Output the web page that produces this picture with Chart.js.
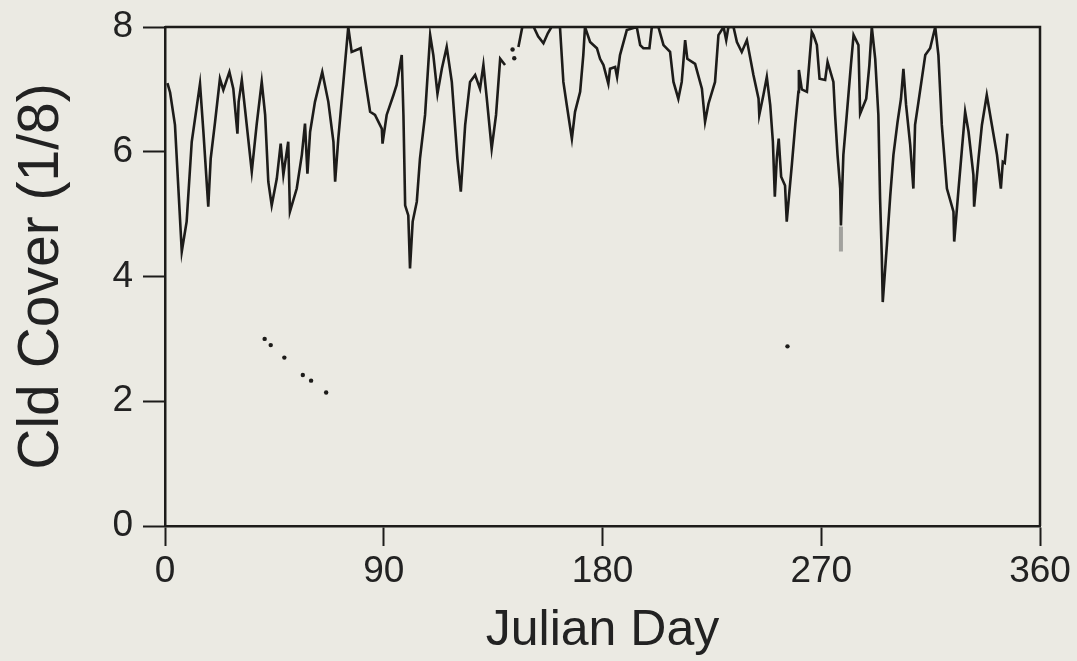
<!DOCTYPE html>
<html lang="en">
<head>
<meta charset="UTF-8">
<title>Cld Cover</title>
<script src="https://cdn.jsdelivr.net/npm/chart.js"></script>
<style>
  body { margin: 0; background: #ebeae3; }
  canvas { display: block; }
</style>
</head>
<body>
<canvas id="nubes" width="1077" height="661"></canvas>
<script>
// Serie diaria de nubosidad (octavos); null = hueco en el trazo
const dias = [
  1.0, 2.1, 4.1, 6.9, 8.9, 11.0, 14.4, 15.8, 17.8, 18.8, 20.6, 22.6, 24.0, 26.5, 28.1, 29.8, 30.3, 31.6, 32.9, 35.7,
  37.7, 39.8, 41.2, 42.5, 43.9, 46.0, 47.6, 48.7, 50.7, 51.4, 54.2, 56.3, 57.6, 58.6, 59.7, 61.7, 64.7, 67.2, 69.3, 70.0,
  71.3, 73.4, 75.4, 76.8, 80.5, 82.3, 84.4, 86.4, 89.2, 89.5, 91.2, 94.0, 95.3, 97.4, 98.1, 98.8, 100.1, 100.8, 101.9, 103.6,
  104.9, 107.0, 109.1, 110.4, 112.1, 113.9, 115.9, 118.0, 120.3, 121.7, 123.5, 125.5, 127.6, 129.6, 131.0, 132.4, 134.4, 136.2, 137.9, 139.9,
  141.0, 145.4, 147.0, 151.7, 153.5, 155.7, 157.5, 159.0, 162.5, 163.9, 165.3, 167.4, 168.7, 170.8, 172.1, 172.8, 174.9, 177.7, 179.0, 180.4,
  182.4, 183.1, 185.2, 186.0, 187.2, 190.0, 194.1, 195.5, 196.8, 199.3, 200.3, 203.0, 205.1, 207.8, 209.2, 211.2, 212.6, 214.0, 214.9, 218.1,
  220.9, 222.2, 223.6, 226.3, 227.7, 229.8, 230.9, 231.8, 233.9, 235.3, 237.3, 239.4, 242.1, 244.2, 244.5, 246.2, 247.6, 249.0, 250.1, 250.9,
  251.7, 252.5, 253.5, 255.1, 255.8, 256.9, 257.9, 259.3, 260.6, 260.8, 262.0, 264.1, 266.1, 266.8, 268.2, 269.3, 271.6, 272.6, 275.0, 275.7,
  276.7, 277.8, 278.1, 279.1, 280.5, 282.2, 283.3, 285.3, 286.0, 288.5, 289.8, 290.8, 292.2, 293.5, 294.2, 294.9, 295.3, 297.0, 298.4, 299.7,
  301.4, 302.8, 303.8, 304.9, 306.6, 307.9, 308.6, 310.0, 312.8, 314.8, 316.9, 318.2, 319.6, 321.7, 324.4, 324.7, 326.5, 327.9, 329.2, 330.6,
  332.6, 332.9, 334.7, 336.1, 338.1, 340.2, 342.3, 343.9, 344.7, 345.5, 346.6
];
const cobertura = [
  7.10, 6.95, 6.43, 4.40, 4.88, 6.16, 7.09, 6.32, 5.12, 5.89, 6.48, 7.17, 6.99, 7.28, 7.01, 6.29, 6.80, 7.15, 6.69, 5.68,
  6.43, 7.12, 6.59, 5.52, 5.14, 5.57, 6.13, 5.63, 6.16, 5.04, 5.41, 5.95, 6.45, 5.65, 6.32, 6.80, 7.28, 6.80, 6.16, 5.52,
  6.21, 7.12, 8.00, 7.60, 7.66, 7.17, 6.64, 6.59, 6.37, 6.13, 6.59, 6.91, 7.07, 7.55, 6.59, 5.14, 4.98, 4.13, 4.88, 5.20,
  5.89, 6.59, 7.87, 7.55, 6.93, 7.33, 7.68, 7.12, 5.89, 5.36, 6.43, 7.12, 7.23, 7.01, 7.39, 6.85, 6.05, 6.59, 7.49, 7.39,
  null, 7.68, 8.00, 8.00, 7.85, 7.74, 7.90, 8.00, 8.00, 7.12, 6.75, 6.21, 6.64, 6.96, 7.55, 8.00, 7.76, 7.66, 7.49, 7.39,
  7.09, 7.33, 7.36, 7.20, 7.55, 7.95, 8.00, 7.71, 7.66, 7.66, 8.00, 8.00, 7.71, 7.60, 7.12, 6.85, 7.12, 7.79, 7.49, 7.41,
  7.01, 6.48, 6.77, 7.12, 7.87, 8.00, 7.79, 8.00, 8.00, 7.76, 7.60, 7.79, 7.23, 6.85, 6.59, 6.91, 7.20, 6.75, 6.16, 5.28,
  5.89, 6.21, 5.60, 5.46, 4.88, 5.36, 5.79, 6.43, 6.96, 7.31, 7.00, 6.96, 7.92, 7.87, 7.71, 7.17, 7.15, 7.44, 7.12, 6.59,
  5.95, 5.41, 4.82, 5.95, 6.59, 7.39, 7.87, 7.71, 6.61, 6.85, 7.39, 8.00, 7.49, 6.59, 5.25, 4.34, 3.59, 4.50, 5.30, 5.95,
  6.48, 6.85, 7.33, 6.75, 6.11, 5.41, 6.43, 6.80, 7.55, 7.66, 8.00, 7.55, 6.43, 5.41, 5.04, 4.56, 5.41, 6.05, 6.64, 6.32,
  5.63, 5.12, 5.89, 6.43, 6.91, 6.43, 5.95, 5.41, 5.84, 5.82, 6.29
];
// puntos sueltos de la figura
const puntosDias = [41.0, 43.5, 49.1, 56.7, 60.1, 66.3, 143.0, 143.7, 256.1];
const puntosCob = [3.00, 2.90, 2.70, 2.42, 2.33, 2.14, 7.64, 7.50, 2.88];
// mancha gris bajo el dia 278
const manchaDias = [278.1, 278.1];
const manchaCob = [4.80, 4.40];
const ticksX = [0, 90, 180, 270, 360];
const ticksY = [0, 2, 4, 6, 8];

const tinta = '#1d1c1a';
Chart.defaults.font.family = "'Liberation Sans', Arial, sans-serif";
Chart.defaults.color = '#222';

// recuadro: borde superior y derecho del area
const marco = {
  id: 'marco',
  afterDatasetsDraw(chart) {
    const { ctx, chartArea: a } = chart;
    ctx.save();
    ctx.strokeStyle = tinta;
    ctx.lineWidth = 2.5;
    ctx.beginPath();
    ctx.moveTo(a.left, a.top);
    ctx.lineTo(a.right, a.top);
    ctx.lineTo(a.right, a.bottom);
    ctx.stroke();
    ctx.restore();
  }
};

const ctx = document.getElementById('nubes').getContext('2d');
new Chart(ctx, {
  type: 'line',
  data: {
    datasets: [
      {
        data: dias.map((d, i) => ({ x: d, y: cobertura[i] })),
        borderColor: tinta,
        borderWidth: 2.6,
        pointRadius: 0,
        tension: 0,
        spanGaps: false
      },
      {
        data: manchaDias.map((d, i) => ({ x: d, y: manchaCob[i] })),
        borderColor: 'rgba(90,90,90,0.5)',
        borderWidth: 4,
        pointRadius: 0
      },
      {
        type: 'scatter',
        data: puntosDias.map((d, i) => ({ x: d, y: puntosCob[i] })),
        backgroundColor: tinta,
        borderWidth: 0,
        pointRadius: 2.2
      }
    ]
  },
  options: {
    responsive: false,
    animation: false,
    layout: { padding: { left: 8, top: 27, right: 37, bottom: 0 } },
    plugins: { legend: { display: false }, tooltip: { enabled: false } },
    scales: {
      x: {
        type: 'linear',
        min: 0,
        max: 360,
        afterFit: s => { s.height = 135; },
        afterBuildTicks: s => { s.ticks = ticksX.map(v => ({ value: v })); },
        border: { color: tinta, width: 2.5 },
        grid: { drawOnChartArea: false, color: tinta, tickLength: 20, tickWidth: 2 },
        ticks: { font: { size: 37 }, padding: 4, maxRotation: 0 },
        title: { display: true, text: 'Julian Day', font: { size: 50 }, padding: 0 }
      },
      y: {
        type: 'linear',
        min: 0,
        max: 8,
        afterFit: s => { s.width = 157; },
        afterBuildTicks: s => { s.ticks = ticksY.map(v => ({ value: v })); },
        border: { color: tinta, width: 2.5 },
        grid: { drawOnChartArea: false, color: tinta, tickLength: 22, tickWidth: 2 },
        ticks: { font: { size: 37, lineHeight: 0.9 }, padding: 10 },
        title: { display: true, text: 'Cld Cover (1/8)', font: { size: 57 }, padding: 0 }
      }
    }
  },
  plugins: [marco]
});
</script>
</body>
</html>
